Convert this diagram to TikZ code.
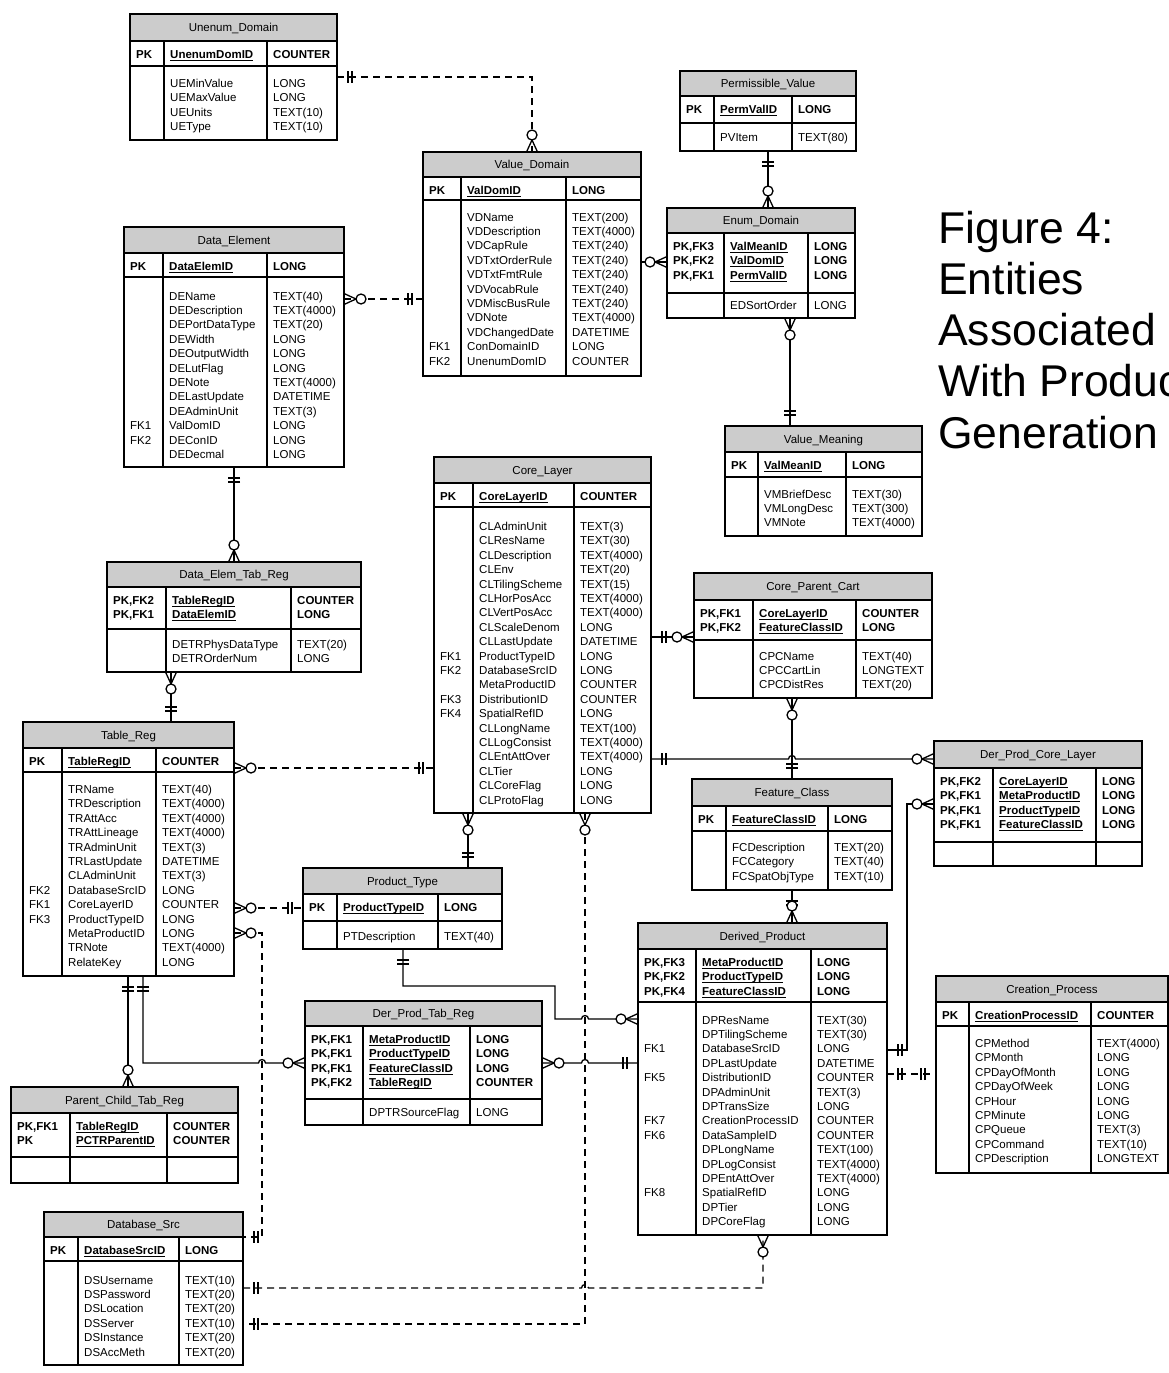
\documentclass[tikz,border=0pt]{standalone}
\usepackage{fontspec}
\setmainfont{Liberation Sans}
\definecolor{hdr}{gray}{0.8}
\newcommand\tblfont{\fontsize{11.5}{13.8}\selectfont}
% underlined key field
\newcommand\keyul[1]{\setbox0=\hbox{#1}\rlap{\vrule width\wd0 height -1.5pt depth 2.5pt}\box0}
% table frame: name, left, right, top, header bottom, key rows bottom, bottom, divider 1, divider 2
\newcommand\tblframe[9]{%
  \def\tX{#2}\def\tXX{#3}\def\tT{#4}\def\tH{#5}\def\tDa{#8}\def\tDb{#9}%
  \fill[hdr] (#2,#4) rectangle (#3,#5);
  \draw[grid] (#2,#5) -- (#3,#5) (#2,#6) -- (#3,#6) (#8,#5) -- (#8,#7) (#9,#5) -- (#9,#7);
  \node[tbl, minimum width={#3-#2}, minimum height={#7-#4}] (#1) at ({(#2+#3)/2},{(#4+#7)/2}) {};
}
% table text: title, key col 1, key col 2, key col 3, first body row centre, body col 1 (row/label), body col 2, body col 3
\newcommand\tbltext[8]{%
  \node[ttl] at ({(\tX+\tXX)/2},{(\tT+\tH)/2+4}) {#1};
  \foreach \s [count=\i from 0] in {#2} \node[keycell] at (\tX+6,{\tH+17.5+\i*14.4}) {\s};
  \foreach \s [count=\i from 0] in {#3} \node[keycell] at (\tDa+6,{\tH+17.5+\i*14.4}) {\keyul{\s}};
  \foreach \s [count=\i from 0] in {#4} \node[keycell] at (\tDb+6,{\tH+17.5+\i*14.4}) {\s};
  \def\tblarg{#6}\ifx\tblarg\empty\else
    \foreach \r/\s in {#6} \node[cell] at (\tX+6,{#5+4+\r*14.4}) {\s};\fi
  \def\tblarg{#7}\ifx\tblarg\empty\else
    \foreach \s [count=\i from 0] in {#7} \node[cell] at (\tDa+6,{#5+4+\i*14.4}) {\s};\fi
  \def\tblarg{#8}\ifx\tblarg\empty\else
    \foreach \s [count=\i from 0] in {#8} \node[cell] at (\tDb+6,{#5+4+\i*14.4}) {\s};\fi
}
% zero-or-many end: point on the border, direction pointing away from the entity
\newcommand\ezm[2]{\begin{scope}[shift={#1},rotate=#2]
  \draw[sym] (0,5.5) -- (12,0) -- (0,-5.5);
  \draw[sym,fill=white] (17,0) circle[radius=5pt];
\end{scope}}
% exactly-one end
\newcommand\eone[2]{\begin{scope}[shift={#1},rotate=#2]
  \draw[sym] (11,-6) -- (11,6) (15,-6) -- (15,6);
\end{scope}}
\begin{document}
\begin{tikzpicture}[x=1pt,y=-1pt,
  grid/.style={line width=1.4pt},
  tbl/.style={draw, line width=1.6pt, inner sep=0pt, outer sep=0pt},
  ttl/.style={anchor=base, inner sep=0pt, font=\tblfont},
  cell/.style={anchor=base west, inner sep=0pt, font=\tblfont},
  keycell/.style={cell, font=\tblfont\bfseries},
  link/.style={line width=1.3pt},
  optlink/.style={link, dash pattern=on 7pt off 5pt},
  sym/.style={line width=1.3pt},
  figtitle/.style={anchor=base west, inner sep=0pt, font=\fontsize{44.5}{51.3}\selectfont}]
\useasboundingbox (0,0) rectangle (1169,1373);
\clip (0,0) rectangle (1169,1373);

% ---------- entities ----------
\tblframe{unenum}{130}{337}{14}{41}{66}{140}{164}{267}
\tbltext{Unenum\_Domain}{PK}{UnenumDomID}{COUNTER}{83.5}{}{UEMinValue,UEMaxValue,UEUnits,UEType}{LONG,LONG,TEXT(10),TEXT(10)}

\tblframe{valdom}{423}{641}{152}{177}{200}{376}{461}{566}
\tbltext{Value\_Domain}{PK}{ValDomID}{LONG}{217}{9/FK1,10/FK2}{VDName,VDDescription,VDCapRule,VDTxtOrderRule,VDTxtFmtRule,VDVocabRule,VDMiscBusRule,VDNote,VDChangedDate,ConDomainID,UnenumDomID}{TEXT(200),TEXT(4000),TEXT(240),TEXT(240),TEXT(240),TEXT(240),TEXT(240),TEXT(4000),DATETIME,LONG,COUNTER}

\tblframe{permval}{680}{856}{71}{96}{123}{151}{714}{792}
\tbltext{Permissible\_Value}{PK}{PermValID}{LONG}{137}{}{PVItem}{TEXT(80)}

\tblframe{enum}{667}{855}{208}{233}{293}{318}{724}{808}
\tbltext{Enum\_Domain}{{PK,FK3},{PK,FK2},{PK,FK1}}{ValMeanID,ValDomID,PermValID}{LONG,LONG,LONG}{305.5}{}{EDSortOrder}{LONG}

\tblframe{valmean}{725}{922}{426}{452}{477}{536}{758}{846}
\tbltext{Value\_Meaning}{PK}{ValMeanID}{LONG}{494}{}{VMBriefDesc,VMLongDesc,VMNote}{TEXT(30),TEXT(300),TEXT(4000)}

\tblframe{dataelem}{124}{344}{227}{253}{277}{467}{163}{267}
\tbltext{Data\_Element}{PK}{DataElemID}{LONG}{296}{9/FK1,10/FK2}{DEName,DEDescription,DEPortDataType,DEWidth,DEOutputWidth,DELutFlag,DENote,DELastUpdate,DEAdminUnit,ValDomID,DEConID,DEDecmal}{TEXT(40),TEXT(4000),TEXT(20),LONG,LONG,LONG,TEXT(4000),DATETIME,TEXT(3),LONG,LONG,LONG}

\tblframe{detr}{107}{361}{562}{587}{629}{672}{166}{291}
\tbltext{Data\_Elem\_Tab\_Reg}{{PK,FK2},{PK,FK1}}{TableRegID,DataElemID}{COUNTER,LONG}{644}{}{DETRPhysDataType,DETROrderNum}{TEXT(20),LONG}

\tblframe{tablereg}{23}{234}{722}{748}{772}{976}{62}{156}
\tbltext{Table\_Reg}{PK}{TableRegID}{COUNTER}{789.5}{7/FK2,8/FK1,9/FK3}{TRName,TRDescription,TRAttAcc,TRAttLineage,TRAdminUnit,TRLastUpdate,CLAdminUnit,DatabaseSrcID,CoreLayerID,ProductTypeID,MetaProductID,TRNote,RelateKey}{TEXT(40),TEXT(4000),TEXT(4000),TEXT(4000),TEXT(3),DATETIME,TEXT(3),LONG,COUNTER,LONG,LONG,TEXT(4000),LONG}

\tblframe{pctr}{11}{238}{1087}{1113}{1157}{1183}{70}{167}
\tbltext{Parent\_Child\_Tab\_Reg}{{PK,FK1},PK}{TableRegID,PCTRParentID}{COUNTER,COUNTER}{0}{}{}{}

\tblframe{dbsrc}{44}{243}{1212}{1237}{1261}{1365}{78}{179}
\tbltext{Database\_Src}{PK}{DatabaseSrcID}{LONG}{1280}{}{DSUsername,DSPassword,DSLocation,DSServer,DSInstance,DSAccMeth}{TEXT(10),TEXT(20),TEXT(20),TEXT(10),TEXT(20),TEXT(20)}

\tblframe{corelayer}{434}{651}{457}{483}{507}{813}{473}{574}
\tbltext{Core\_Layer}{PK}{CoreLayerID}{COUNTER}{526.5}{9/FK1,10/FK2,12/FK3,13/FK4}{CLAdminUnit,CLResName,CLDescription,CLEnv,CLTilingScheme,CLHorPosAcc,CLVertPosAcc,CLScaleDenom,CLLastUpdate,ProductTypeID,DatabaseSrcID,MetaProductID,DistributionID,SpatialRefID,CLLongName,CLLogConsist,CLEntAttOver,CLTier,CLCoreFlag,CLProtoFlag}{TEXT(3),TEXT(30),TEXT(4000),TEXT(20),TEXT(15),TEXT(4000),TEXT(4000),LONG,DATETIME,LONG,LONG,COUNTER,COUNTER,LONG,TEXT(100),TEXT(4000),TEXT(4000),LONG,LONG,LONG}

\tblframe{cpc}{694}{932}{573}{600}{640}{698}{753}{856}
\tbltext{Core\_Parent\_Cart}{{PK,FK1},{PK,FK2}}{CoreLayerID,FeatureClassID}{COUNTER,LONG}{656}{}{CPCName,CPCCartLin,CPCDistRes}{TEXT(40),LONGTEXT,TEXT(20)}

\tblframe{fc}{692}{892}{779}{806}{831}{890}{726}{828}
\tbltext{Feature\_Class}{PK}{FeatureClassID}{LONG}{847.5}{}{FCDescription,FCCategory,FCSpatObjType}{TEXT(20),TEXT(40),TEXT(10)}

\tblframe{dpcl}{934}{1142}{741}{768}{842}{866}{993}{1096}
\tbltext{Der\_Prod\_Core\_Layer}{{PK,FK2},{PK,FK1},{PK,FK1},{PK,FK1}}{CoreLayerID,MetaProductID,ProductTypeID,FeatureClassID}{LONG,LONG,LONG,LONG}{0}{}{}{}

\tblframe{ptype}{303}{502}{868}{894}{921}{949}{337}{438}
\tbltext{Product\_Type}{PK}{ProductTypeID}{LONG}{936}{}{PTDescription}{TEXT(40)}

\tblframe{dptr}{305}{542}{1001}{1026}{1099}{1125}{363}{470}
\tbltext{Der\_Prod\_Tab\_Reg}{{PK,FK1},{PK,FK1},{PK,FK1},{PK,FK2}}{MetaProductID,ProductTypeID,FeatureClassID,TableRegID}{LONG,LONG,LONG,COUNTER}{1112}{}{DPTRSourceFlag}{LONG}

\tblframe{dp}{638}{887}{923}{949}{1002}{1235}{696}{811}
\tbltext{Derived\_Product}{{PK,FK3},{PK,FK2},{PK,FK4}}{MetaProductID,ProductTypeID,FeatureClassID}{LONG,LONG,LONG}{1020}{2/FK1,4/FK5,7/FK7,8/FK6,12/FK8}{DPResName,DPTilingScheme,DatabaseSrcID,DPLastUpdate,DistributionID,DPAdminUnit,DPTransSize,CreationProcessID,DataSampleID,DPLongName,DPLogConsist,DPEntAttOver,SpatialRefID,DPTier,DPCoreFlag}{TEXT(30),TEXT(30),LONG,DATETIME,COUNTER,TEXT(3),LONG,COUNTER,COUNTER,TEXT(100),TEXT(4000),TEXT(4000),LONG,LONG,LONG}

\tblframe{cp}{936}{1168}{976}{1002}{1026}{1173}{969}{1091}
\tbltext{Creation\_Process}{PK}{CreationProcessID}{COUNTER}{1043.5}{}{CPMethod,CPMonth,CPDayOfMonth,CPDayOfWeek,CPHour,CPMinute,CPQueue,CPCommand,CPDescription}{TEXT(4000),LONG,LONG,LONG,LONG,LONG,TEXT(3),TEXT(10),LONGTEXT}

% ---------- relationships ----------
\draw[optlink] (unenum.east |- 0,77) -| (valdom.north);
\draw[optlink] (dataelem.east |- 0,299) -- (valdom.west |- 0,299);
\draw[link] (valdom.east |- 0,262) -- (enum.west |- 0,262);
\draw[link] (permval.south) -- (permval.south |- enum.north);
\draw[link] (790,0 |- enum.south) -- (790,0 |- valmean.north);
\draw[link] (dataelem.south) -- (dataelem.south |- detr.north);
\draw[link] (171,0 |- detr.south) -- (171,0 |- tablereg.north);
\draw[optlink] (tablereg.east |- 0,768) -- (corelayer.west |- 0,768);
\draw[optlink] (tablereg.east |- 0,908) -- (ptype.west |- 0,908);
\draw[optlink] (tablereg.east |- 0,933) -- (262,933) -- (262,1237) -- (dbsrc.east |- 0,1237);
\draw[link] (128,0 |- tablereg.south) -- (128,0 |- pctr.north);
\draw[link] (143,0 |- tablereg.south) -- (143,1063) -- (258.5,1063)
  arc[start angle=180,end angle=0,radius=3.5pt] -- (dptr.west |- 0,1063);
\draw[link] (468,0 |- corelayer.south) -- (468,0 |- ptype.north);
\draw[optlink] (585,0 |- corelayer.south) -- (585,1324) -- (dbsrc.east |- 0,1324);
\draw[optlink] (dbsrc.east |- 0,1288) -- (581.5,1288)
  arc[start angle=180,end angle=0,radius=3.5pt] -- (763,1288) -- (763,0 |- dp.south);
\draw[link] (403,0 |- ptype.south) -- (403,986) -- (555,986) -- (555,1019) -- (581.5,1019)
  arc[start angle=180,end angle=0,radius=3.5pt] -- (dp.west |- 0,1019);
\draw[link] (dptr.east |- 0,1063) -- (581.5,1063)
  arc[start angle=180,end angle=0,radius=3.5pt] -- (dp.west |- 0,1063);
\draw[link] (corelayer.east |- 0,637) -- (cpc.west |- 0,637);
\draw[link] (fc.north |- cpc.south) -- (fc.north);
\draw[link] (corelayer.east |- 0,759) -- (788.5,759)
  arc[start angle=180,end angle=0,radius=3.5pt] -- (dpcl.west |- 0,759);
\draw[link] (fc.south) -- (fc.south |- dp.north);
\draw[link] (dp.east |- 0,1050) -- (907,1050) -- (907,804) -- (dpcl.west |- 0,804);
\draw[optlink] (dp.east |- 0,1074) -- (cp.west |- 0,1074);

% ---------- cardinality marks ----------
\eone{(unenum.east |- 0,77)}{0}        \ezm{(valdom.north)}{90}
\ezm{(dataelem.east |- 0,299)}{0}      \eone{(valdom.west |- 0,299)}{180}
\ezm{(enum.west |- 0,262)}{180}
\eone{(permval.south)}{270}            \ezm{(permval.south |- enum.north)}{90}
\ezm{(790,0 |- enum.south)}{270}       \eone{(790,0 |- valmean.north)}{90}
\eone{(dataelem.south)}{270}           \ezm{(dataelem.south |- detr.north)}{90}
\ezm{(171,0 |- detr.south)}{270}       \eone{(171,0 |- tablereg.north)}{90}
\ezm{(tablereg.east |- 0,768)}{0}      \eone{(corelayer.west |- 0,768)}{180}
\ezm{(tablereg.east |- 0,908)}{0}      \eone{(ptype.west |- 0,908)}{180}
\ezm{(tablereg.east |- 0,933)}{0}      \eone{(dbsrc.east |- 0,1237)}{0}
\eone{(128,0 |- tablereg.south)}{270}  \ezm{(128,0 |- pctr.north)}{90}
\eone{(143,0 |- tablereg.south)}{270}  \ezm{(dptr.west |- 0,1063)}{180}
\ezm{(468,0 |- corelayer.south)}{270}  \eone{(468,0 |- ptype.north)}{90}
\ezm{(585,0 |- corelayer.south)}{270}  \eone{(dbsrc.east |- 0,1324)}{0}
\eone{(dbsrc.east |- 0,1288)}{0}       \ezm{(763,0 |- dp.south)}{270}
\eone{(403,0 |- ptype.south)}{270}     \ezm{(dp.west |- 0,1019)}{180}
\ezm{(dptr.east |- 0,1063)}{0}         \eone{(dp.west |- 0,1063)}{180}
\eone{(corelayer.east |- 0,637)}{0}    \ezm{(cpc.west |- 0,637)}{180}
\ezm{(fc.north |- cpc.south)}{270}     \eone{(fc.north)}{90}
\eone{(corelayer.east |- 0,759)}{0}    \ezm{(dpcl.west |- 0,759)}{180}
\eone{(fc.south)}{270}                 \ezm{(fc.south |- dp.north)}{90}
\eone{(dp.east |- 0,1050)}{0}          \ezm{(dpcl.west |- 0,804)}{180}
\eone{(dp.east |- 0,1074)}{0}          \eone{(cp.west |- 0,1074)}{180}

% ---------- caption ----------
\foreach \t [count=\i from 0] in {Figure 4:,Entities,Associated,With Product,Generation}
  \node[figtitle] (caption\i) at (938,{243+\i*51.3}) {\t};
\end{tikzpicture}
\end{document}
